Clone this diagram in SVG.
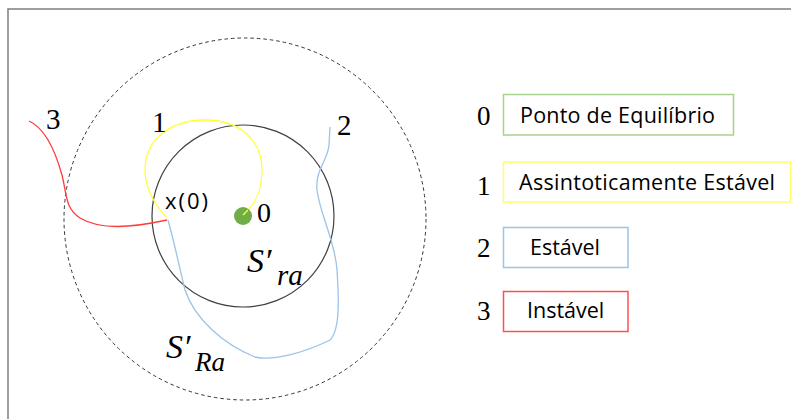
<svg xmlns="http://www.w3.org/2000/svg" width="791" height="419" viewBox="0 0 791 419">
<style>
.num{font-family:"Liberation Serif","DejaVu Serif",serif;fill:#000}
.lbl{font-family:"Open Sans","Liberation Sans",sans-serif;font-size:21.5px;fill:#000}
.box{fill:#fff;stroke-width:1.5}
.math{font-family:"Liberation Serif","DejaVu Serif",serif;font-style:italic;fill:#000}
.traj{fill:none;stroke-width:1.3}
</style>
<rect x="0" y="0" width="791" height="419" fill="#fff"/>
<rect x="8" y="9" width="800" height="420" fill="none" stroke="#7f7f7f" stroke-width="1.5"/>
<g id="region-Ra">
<circle cx="245" cy="219" r="181" fill="none" stroke="#333" stroke-width="1" stroke-dasharray="3.5,3"/>
<text class="math" x="166" y="358" font-size="34">S′</text>
<text class="math" x="195" y="371" font-size="27">R<tspan>a</tspan></text>
</g>
<g id="region-ra">
<circle cx="243" cy="216" r="91" fill="none" stroke="#404040" stroke-width="1.2"/>
<text class="math" x="247" y="272" font-size="34">S′</text>
<text class="math" x="277" y="285" font-size="29">r<tspan>a</tspan></text>
</g>
<g id="trajectories">
<path class="traj" stroke="#ff3b3b" d="M29,121 C45,128 55,150 62,175 C67,195 65,208 80,218 C100,230 130,228 167,220"/>
<path class="traj" stroke="#ffff3c" d="M167,218 C155,205 145,190 145,170 C145,140 170,120 205,120 C240,120 262,140 262,170 C262,192 255,205 243,215"/>
<path class="traj" stroke="#9dc3e6" d="M168,220 C175,245 180,270 185,290 C195,320 225,345 255,357 C275,362 310,350 330,340 C340,330 339,300 337,270 C335,240 320,215 317,190 C315,170 328,160 329,145 L330,127"/>
</g>
<g id="equilibrium">
<circle cx="243" cy="216" r="9" fill="#70ad47"/>
<path d="M243,215 L248,210" stroke="#ffff3c" stroke-width="1.3"/>
<text class="num" x="257" y="222" font-size="28">0</text>
</g>
<g id="x0">
<text x="165" y="209" font-family="'Open Sans','Liberation Sans',sans-serif" font-size="22" textLength="43">x(0)</text>
</g>
<g id="traj-labels">
<text class="num" x="46" y="129" font-size="29">3</text>
<text class="num" x="152" y="132" font-size="29">1</text>
<text class="num" x="337" y="135" font-size="29">2</text>
</g>
<g id="legend-0">
<text class="num" x="477" y="125" font-size="27">0</text>
<rect class="box" x="503.5" y="94.5" width="230" height="40.5" stroke="#a9d18e"/>
<text class="lbl" x="520" y="123" textLength="195">Ponto de Equilíbrio</text>
</g>
<g id="legend-1">
<text class="num" x="477" y="195" font-size="27">1</text>
<rect class="box" x="503.5" y="162" width="287" height="40" stroke="#ffff66"/>
<text class="lbl" x="519" y="190" textLength="256">Assintoticamente Estável</text>
</g>
<g id="legend-2">
<text class="num" x="477" y="257" font-size="27">2</text>
<rect class="box" x="503.5" y="227.5" width="124.5" height="40" stroke="#9dc3e6"/>
<text class="lbl" x="530" y="255">Estável</text>
</g>
<g id="legend-3">
<text class="num" x="477" y="320" font-size="27">3</text>
<rect class="box" x="503.5" y="291.5" width="124.5" height="40" stroke="#ff5050"/>
<text class="lbl" x="527" y="318">Instável</text>
</g>
</svg>
